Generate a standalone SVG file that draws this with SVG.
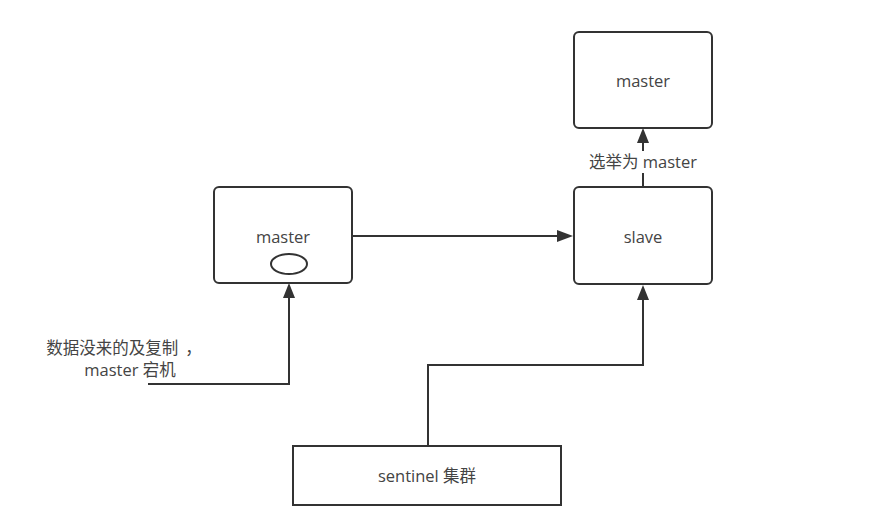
<svg xmlns="http://www.w3.org/2000/svg" width="871" height="527" viewBox="0 0 871 527">
<defs>
<style>
.box{fill:#fff;stroke:#333;stroke-width:2}
.ln{fill:none;stroke:#333;stroke-width:2}
.ah{fill:#333}
text{font-family:"Open Sans","Noto Sans CJK SC",sans-serif;font-size:16.5px;fill:#444}
</style>
</defs>
<rect width="871" height="527" fill="#fff"/>
<g id="connectors">
<path class="ln" d="M352,236 H558"/>
<path class="ah" d="M557,230 L573,236 L557,242 z"/>
<path class="ln" d="M643,187 V140"/>
<path class="ah" d="M637,143 L643,128 L649,143 z"/>
<rect x="582" y="151" width="122" height="22" fill="#fff"/>
<text x="643" y="168" text-anchor="middle">选举为 master</text>
<path class="ln" d="M148,384 H289 V296"/>
<path class="ah" d="M283,298 L289,283 L295,298 z"/>
<path class="ln" d="M428,446 V365 H643 V296"/>
<path class="ah" d="M637,300 L643,285 L649,300 z"/>
<text x="124" y="354" text-anchor="middle">数据没来的及复制<tspan dx="7">，</tspan></text>
<text x="130" y="376" text-anchor="middle">master 宕机</text>
</g>
<g id="master_old">
<rect class="box" x="214" y="187" width="138" height="96" rx="5"/>
<text x="283" y="243" text-anchor="middle">master</text>
<ellipse cx="289" cy="264" rx="18" ry="10" fill="#fff" stroke="#333" stroke-width="2"/>
</g>
<g id="slave">
<rect class="box" x="574" y="187" width="138" height="97" rx="5"/>
<text x="643" y="243" text-anchor="middle">slave</text>
</g>
<g id="master_new">
<rect class="box" x="574" y="32" width="138" height="96" rx="5"/>
<text x="643" y="87" text-anchor="middle">master</text>
</g>
<g id="sentinel">
<rect class="box" x="293" y="446" width="268" height="59"/>
<text x="427" y="482" text-anchor="middle">sentinel 集群</text>
</g>
</svg>
